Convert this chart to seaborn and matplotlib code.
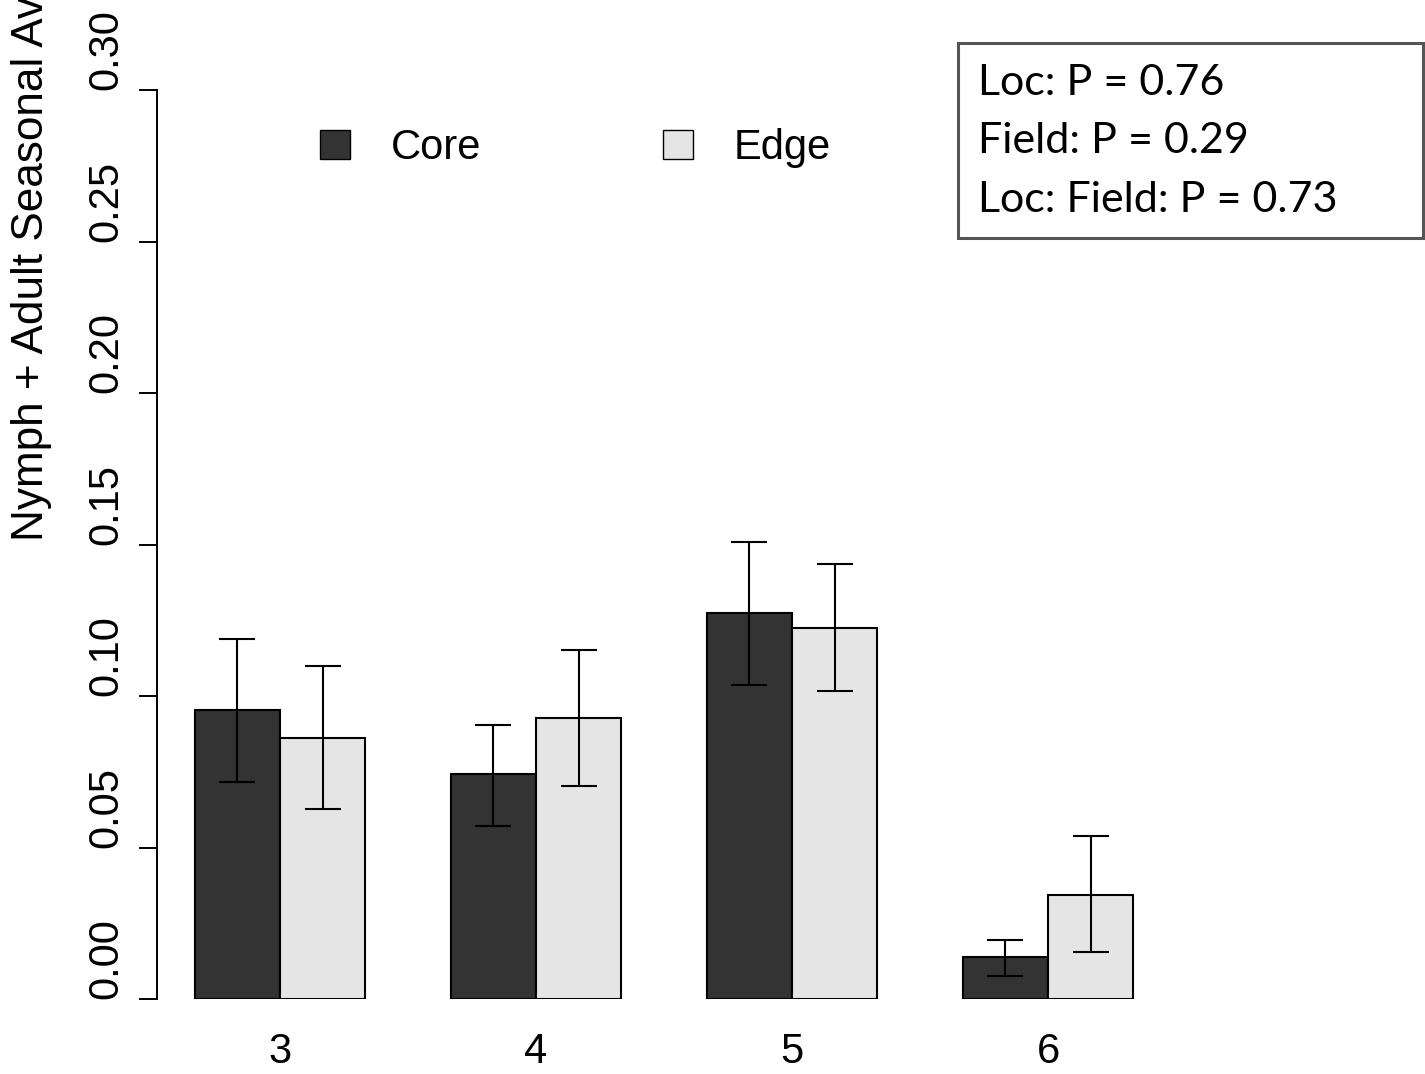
import matplotlib
matplotlib.use('Agg')
import matplotlib.pyplot as plt
import seaborn as sns
import pandas as pd
import numpy as np
from matplotlib.patches import Rectangle, Patch

# ---- data ----
fields = ['3', '4', '5', '6']
locs = ['Core', 'Edge']
core_mean = [0.0953, 0.0741, 0.1274, 0.0138]
core_upper = [0.1187, 0.0903, 0.1508, 0.0196]
core_lower = [0.0716, 0.0571, 0.1036, 0.0075]
edge_mean = [0.0863, 0.0927, 0.1225, 0.0342]
edge_upper = [0.1098, 0.1151, 0.1436, 0.0537]
edge_lower = [0.0626, 0.0704, 0.1018, 0.0154]
y_ticks = [0.00, 0.05, 0.10, 0.15, 0.20, 0.25, 0.30]
y_tick_labels = ['0.00', '0.05', '0.10', '0.15', '0.20', '0.25', '0.30']
y_label = 'Nymph + Adult Seasonal Average'
stats_lines = ['Loc: P = 0.76', 'Field: P = 0.29', 'Loc: Field: P = 0.73']
colors = ['#333333', '#E5E5E5']

sns.set_style('white')
plt.rcParams['font.family'] = ['Liberation Sans', 'DejaVu Sans']
plt.rcParams['text.color'] = 'black'
plt.rcParams['axes.labelcolor'] = 'black'
plt.rcParams['xtick.color'] = 'black'
plt.rcParams['ytick.color'] = 'black'

W, H = 1425, 1074
fig = plt.figure(figsize=(W / 100, H / 100), dpi=100)
ax = fig.add_axes([157 / W, 1 - 999 / H, (1171 - 157) / W, (999 - 90) / H])

df = pd.DataFrame({
    'Field': fields * 2,
    'Loc': ['Core'] * len(fields) + ['Edge'] * len(fields),
    'value': core_mean + edge_mean,
})
sns.barplot(data=df, x='Field', y='value', hue='Loc', order=fields, hue_order=locs,
            palette=colors, width=2 / 3, gap=0, errorbar=None, edgecolor='black',
            linewidth=1.5, saturation=1, legend=False, ax=ax, zorder=2)

means = [core_mean, edge_mean]
lows = [core_lower, edge_lower]
ups = [core_upper, edge_upper]
for cont, m, lo, up in zip(ax.containers, means, lows, ups):
    xs = [p.get_x() + p.get_width() / 2 for p in cont.patches]
    m = np.array(m)
    ax.errorbar(xs, m, yerr=[m - np.array(lo), np.array(up) - m], fmt='none',
                ecolor='black', elinewidth=1.5, capsize=13.3, capthick=1.5,
                clip_on=False, zorder=3)

ax.set_xlim(-0.48, 3.48)
ax.set_ylim(0, 0.30)
ax.set_yticks(y_ticks)
ax.set_yticklabels(y_tick_labels, rotation=90, va='bottom', fontsize=30)
ax.tick_params(axis='y', left=True, length=13, width=1.4, pad=9, direction='out',
               color='black', labelcolor='black')
ax.tick_params(axis='x', length=0, pad=24, labelsize=30, labelcolor='black')
ax.set_xlabel('')
ax.set_ylabel('')
sns.despine(ax=ax, top=True, right=True, bottom=True)
ax.spines['left'].set_linewidth(1.4)
ax.spines['left'].set_color('black')

fig.text(32 / W, 1 - 541 / H, y_label, rotation=90, ha='center', va='bottom',
         fontsize=31.8, color='black')

handles = [Patch(facecolor=c, edgecolor='black', linewidth=1.0) for c in colors]
fig.legend(handles, locs, loc='center left', bbox_to_anchor=(320 / W, 1 - 148 / H), ncol=2,
           frameon=False, fontsize=30, handlelength=0.72, handleheight=0.72,
           handletextpad=0.98, columnspacing=4.36, borderpad=0, borderaxespad=0,
           labelcolor='black')

fig.patches.append(Rectangle((958 / W, 1 - 238 / H), (1423 - 958) / W, (238 - 43) / H,
                             transform=fig.transFigure, facecolor='white',
                             edgecolor='#555555', linewidth=2.2, zorder=5))
baselines = [95, 153, 212]
for line, b in zip(stats_lines, baselines):
    fig.text(978 / W, 1 - b / H, line, ha='left', va='baseline', fontsize=31,
             family=['Lato', 'DejaVu Sans'], color='black', zorder=6)

fig.savefig('out.png', dpi=100)
